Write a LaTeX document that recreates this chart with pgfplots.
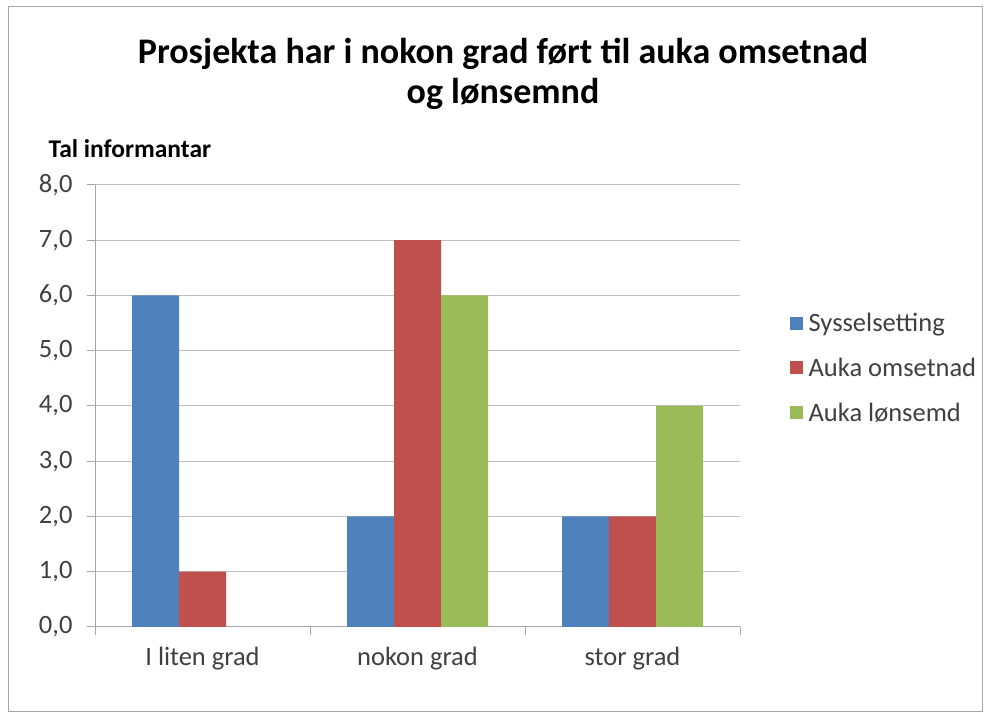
\documentclass[border=0pt]{standalone}
\usepackage{fontspec}
\setmainfont{Carlito}
\usepackage{pgfplots}
\pgfplotsset{compat=1.18}
\definecolor{cblue}{HTML}{4F81BD}
\definecolor{cred}{HTML}{C0504D}
\definecolor{cgreen}{HTML}{9BBB59}
\definecolor{gridc}{HTML}{BFBFBF}
\definecolor{axc}{HTML}{A6A6A6}
\definecolor{txt}{HTML}{404040}
\begin{document}
\begin{tikzpicture}[x=1pt,y=1pt]
\path[fill=white] (0,0) rectangle (990,719);
\draw[axc,line width=1pt] (8,7) rectangle (982,712);
\begin{axis}[
  at={(95pt,92pt)}, anchor=south west,
  scale only axis, width=645pt, height=442pt,
  xmin=-0.5, xmax=2.5, ymin=0, ymax=8,
  ybar=0pt, bar width=47pt,
  xtick={0,1,2},
  xticklabels={I liten grad, nokon grad, stor grad},
  minor xtick={-0.5,0.5,1.5,2.5},
  ytick={0,1,...,8},
  axis x line*=bottom, axis y line*=left,
  axis line style={axc, line width=1pt},
  x axis line style={-}, y axis line style={-},
  tick style={axc, line width=1pt},
  tick align=outside,
  major tick length=8pt, minor tick length=8pt,
  major x tick style={draw=none},
  ymajorgrids, grid style={gridc, line width=1pt},
  tick label style={font=\fontsize{26.5}{32}\selectfont, text=txt},
  /pgf/number format/assume math mode=true,
  yticklabel={\pgfmathprintnumber[fixed,fixed zerofill,precision=1,use comma]{\tick}},
  yticklabel style={xshift=-11pt},
  xticklabel style={yshift=-9pt},
  ylabel={\textbf{Tal informantar}},
  ylabel style={rotate=-90, at={(axis description cs:-0.0775,1.063)}, anchor=base west, font=\fontsize{25.5}{30}\selectfont, text=black},
  legend style={at={(axis description cs:1.072,0.586)}, anchor=west, draw=none, fill=none,
    font=\fontsize{26.5}{32}\selectfont, text=txt, row sep=21pt, cells={anchor=west},
    /tikz/every odd column/.append style={column sep=4pt}},
  legend image code/.code={\fill[#1] (0pt,-6.5pt) rectangle (13pt,6.5pt);},
]
\addplot[fill=cblue, draw=none] coordinates {(0,6) (1,2) (2,2)};
\addplot[fill=cred, draw=none] coordinates {(0,1) (1,7) (2,2)};
\addplot[fill=cgreen, draw=none] coordinates {(1,6) (2,4)};
\legend{Sysselsetting, Auka omsetnad, Auka lønsemd}
\end{axis}
\node[anchor=base, font=\fontsize{36}{43}\selectfont\bfseries] at (503,655) {Prosjekta har i nokon grad ført til auka omsetnad};
\node[anchor=base, font=\fontsize{36}{43}\selectfont\bfseries] at (503,615) {og lønsemnd};
\end{tikzpicture}
\end{document}
